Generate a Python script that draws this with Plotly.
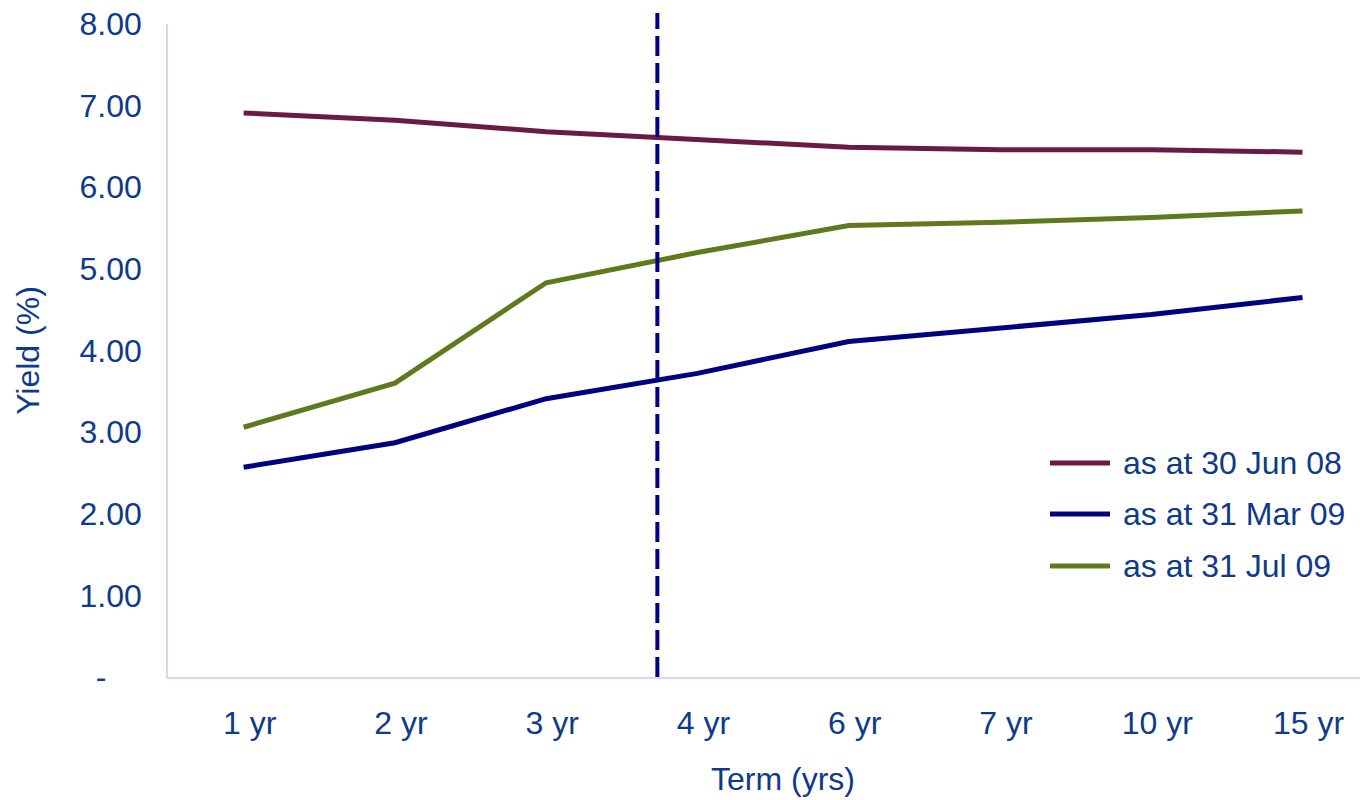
import plotly.graph_objects as go

terms = ["1 yr", "2 yr", "3 yr", "4 yr", "6 yr", "7 yr", "10 yr", "15 yr"]
jun08 = [6.91, 6.82, 6.68, 6.59, 6.49, 6.46, 6.46, 6.43]
mar09 = [2.57, 2.87, 3.41, 3.72, 4.11, 4.27, 4.44, 4.65]
jul09 = [3.06, 3.60, 4.83, 5.20, 5.53, 5.57, 5.63, 5.71]
series_names = ["as at 30 Jun 08", "as at 31 Mar 09", "as at 31 Jul 09"]
series_colors = ["#6B1A43", "#000080", "#5F7A1E"]
y_ticks = [0, 1, 2, 3, 4, 5, 6, 7, 8]
y_ticktext = ["-\u00a0\u00a0\u00a0\u00a0", "1.00", "2.00", "3.00", "4.00", "5.00", "6.00", "7.00", "8.00"]
marker_pos = 2.735  # vertical dashed marker position (category units)

TXT = "#0E3A8C"
FONT = "Liberation Sans, Arial, sans-serif"
FS = 32

fig = go.Figure()
for name, vals, col in zip(series_names, [jun08, mar09, jul09], series_colors):
    fig.add_trace(go.Scatter(x=list(range(len(terms))), y=vals, mode="lines", name=name,
                             line=dict(color=col, width=5), showlegend=False))

# vertical dashed line
fig.add_shape(type="line", xref="x", yref="paper", x0=marker_pos, x1=marker_pos, y0=0, y1=1.017,
              line=dict(color="#000080", width=4, dash="20px,7px"))

# custom legend
leg_y = [463, 514, 566]
for name, col, yy in zip(series_names, series_colors, leg_y):
    yp = 1 - (yy - 24) / 653.0
    fig.add_shape(type="line", xref="paper", yref="paper",
                  x0=(1050 - 168) / 1192.0, x1=(1110 - 168) / 1192.0, y0=yp, y1=yp,
                  line=dict(color=col, width=5))
    fig.add_annotation(xref="paper", yref="paper", x=(1121 - 168) / 1192.0, y=yp,
                       text=name, showarrow=False, xanchor="left", yanchor="middle",
                       font=dict(size=FS, color=TXT, family=FONT))

# x-axis title (centred on the full category band as in the reference)
fig.add_annotation(xref="paper", yref="paper", x=(783 - 168) / 1192.0, y=-(779 - 677) / 653.0,
                   text="Term (yrs)", showarrow=False, xanchor="center", yanchor="middle",
                   font=dict(size=FS, color=TXT, family=FONT))

fig.update_layout(
    width=1360, height=800,
    margin=dict(l=168, r=0, t=24, b=123),
    paper_bgcolor="white", plot_bgcolor="white",
    font=dict(family=FONT, size=FS, color=TXT),
    xaxis=dict(
        tickmode="array", tickvals=list(range(len(terms))), ticktext=terms,
        range=[-0.5, 7.38], showgrid=False, zeroline=False,
        showline=True, linecolor="#D3DCEC", linewidth=1.5, ticks="",
        ticklabelstandoff=17, ticklabelshift=6,
    ),
    yaxis=dict(
        tickmode="array", tickvals=y_ticks, ticktext=y_ticktext,
        range=[0, 8], showgrid=False, zeroline=False,
        showline=True, linecolor="#D3DCEC", linewidth=1.5, ticks="",
        ticklabelstandoff=18,
        title=dict(text="Yield (%)", standoff=30, font=dict(size=FS, color=TXT)),
    ),
)

fig.write_html("out.html", config={"displayModeBar": False},
               post_script="document.body.style.margin='0';document.body.style.padding='0';")
